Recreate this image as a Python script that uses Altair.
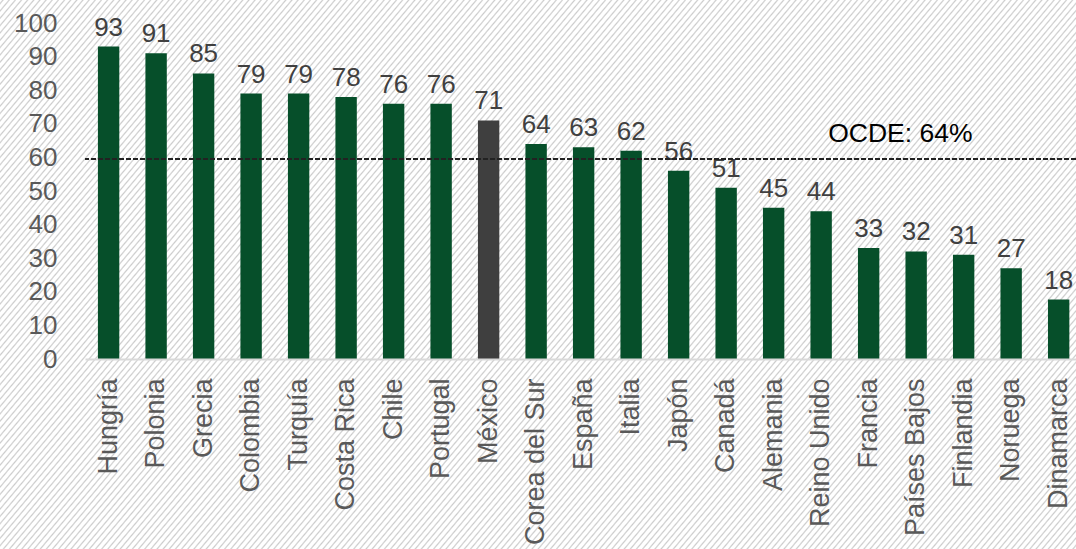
import math
import altair as alt
import pandas as pd

# ---- data ----
countries = ["Hungría", "Polonia", "Grecia", "Colombia", "Turquía", "Costa Rica", "Chile",
             "Portugal", "México", "Corea del Sur", "España", "Italia", "Japón", "Canadá",
             "Alemania", "Reino Unido", "Francia", "Países Bajos", "Finlandia", "Noruega",
             "Dinamarca"]
values = [93, 91, 85, 79, 79, 78, 76, 76, 71, 64, 63, 62, 56, 51, 45, 44, 33, 32, 31, 27, 17.7]
highlight = ["México"]
y_ticks = [0, 10, 20, 30, 40, 50, 60, 70, 80, 90, 100]
ocde_line = [59.5]
ocde_text = ["OCDE: 64%"]
ocde_anchor = ["Reino Unido"]

df = pd.DataFrame({"pais": countries, "valor": values})
df["grupo"] = ["mx" if c in highlight else "otro" for c in countries]
ref = pd.DataFrame({"v": ocde_line, "t": ocde_text, "pais": ocde_anchor})

FONT = "Liberation Sans"
GREEN = "#064F2A"
DARK = "#3F3F3F"

W, H = 991, 336
PL, PT = 85, 23
TOTAL_W, TOTAL_H = 1076, 549

# ---- diagonal hatch background (style only) ----
theta = math.radians(50)
s, c = math.sin(theta), math.cos(theta)
k = (TOTAL_W * s + TOTAL_H * c) / ((TOTAL_W * s) ** 2 + (TOTAL_H * c) ** 2)
gx, gy = k * TOTAL_W * s, k * TOTAL_H * c
D = TOTAL_W * s + TOTAL_H * c
N = int(D / 4.7)
stops = []
for i in range(N):
    a = i / N
    stops += [
        alt.GradientStop(offset=a, color="#ffffff"),
        alt.GradientStop(offset=a + 0.26 / N, color="#ffffff"),
        alt.GradientStop(offset=a + 0.5 / N, color="#cccccc"),
        alt.GradientStop(offset=a + 0.74 / N, color="#ffffff"),
    ]
hatch = alt.LinearGradient(gradient="linear", stops=stops, x1=0, y1=0, x2=gx, y2=gy)

bg = alt.Chart(pd.DataFrame({"a": [0]})).mark_rect(color=hatch).encode(
    x=alt.value(-PL), x2=alt.value(TOTAL_W - PL),
    y=alt.value(-PT), y2=alt.value(TOTAL_H - PT),
)

xscale = alt.Scale(paddingInner=0.55, paddingOuter=0.206, align=0.66)
yscale = alt.Scale(domain=[0, 100], nice=False)

xaxis = alt.Axis(labelAngle=-90, labelFont=FONT, labelFontSize=27, labelColor="#595959",
                 labelPadding=19, ticks=False, domainColor="#d9d9d9", domainWidth=2,
                 labelLimit=400, labelOverlap=False, zindex=1, title=None)
yaxis = alt.Axis(values=y_ticks, labelFont=FONT, labelFontSize=26, labelColor="#595959",
                 labelPadding=28, ticks=False, domain=False, grid=False, zindex=1,
                 labelOverlap=False, labelFlush=False, title=None)


def X(field):
    return alt.X(field, sort=countries, title=None, scale=xscale, axis=xaxis)


def Y(field):
    return alt.Y(field, title=None, scale=yscale, axis=yaxis)


bars = alt.Chart(df).mark_bar().encode(
    x=X("pais:N"), y=Y("valor:Q"),
    color=alt.Color("grupo:N", scale=alt.Scale(domain=["otro", "mx"], range=[GREEN, DARK]),
                    legend=None),
)

labels = alt.Chart(df).mark_text(font=FONT, fontSize=26, color="#404040",
                                 baseline="alphabetic", dy=-11).encode(
    x=X("pais:N"), y=Y("valor:Q"),
    text=alt.Text("valor:Q", format="d"),
)

rule = alt.Chart(ref).mark_rule(color="#222222", strokeDash=[5, 2], strokeWidth=2).encode(
    y=Y("v:Q"),
)

rtext = alt.Chart(ref).mark_text(font=FONT, fontSize=26.5, color="#000000", align="left",
                                 baseline="alphabetic", dx=7, dy=-17).encode(
    x=X("pais:N"), y=Y("v:Q"),
    text="t:N",
)

chart = alt.layer(bg, bars, labels, rule, rtext).properties(
    width=W, height=H,
    padding={"left": PL, "top": PT, "right": TOTAL_W - PL - W, "bottom": TOTAL_H - PT - H},
    autosize=alt.AutoSizeParams(type="none"),
    background="white",
).configure_view(strokeWidth=0)

chart.save("out.html", embed_options={"renderer": "svg", "actions": False})
